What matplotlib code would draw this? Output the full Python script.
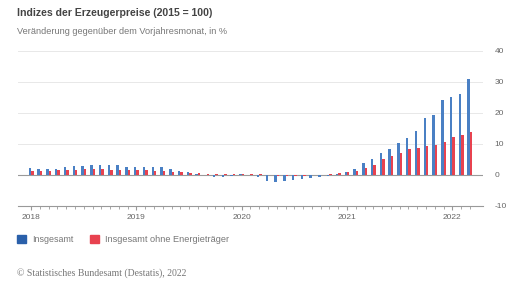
import matplotlib
matplotlib.use("Agg")
import matplotlib.pyplot as plt
import numpy as np
from matplotlib.patches import Rectangle

plt.rcParams["font.family"] = ["Liberation Sans", "DejaVu Sans"]

# monthly change vs. same month previous year, in %, Jan 2018 - Mar 2022
insgesamt = [
    2.1, 1.8, 1.9, 2.0, 2.7, 3.0, 3.0, 3.1, 3.2, 3.3, 3.3, 2.7,
    2.6, 2.6, 2.4, 2.5, 1.9, 1.2, 1.1, 0.3, -0.1, -0.6, -0.7, -0.2,
    0.2, -0.1, -0.8, -1.9, -2.2, -1.8, -1.7, -1.2, -1.0, -0.7, -0.5, 0.2,
    0.9, 1.9, 3.7, 5.2, 7.2, 8.5, 10.4, 12.0, 14.2, 18.4, 19.2, 24.2,
    25.0, 25.9, 30.9,
]
ohne_energie = [
    1.4, 1.4, 1.4, 1.5, 1.6, 1.7, 1.8, 1.8, 1.8, 1.7, 1.7, 1.6,
    1.6, 1.5, 1.4, 1.3, 1.1, 0.9, 0.7, 0.5, 0.4, 0.3, 0.2, 0.2,
    0.3, 0.3, 0.3, 0.0, -0.2, -0.3, -0.3, -0.2, -0.1, 0.1, 0.3, 0.6,
    1.1, 1.4, 2.2, 3.3, 5.1, 6.0, 7.0, 8.2, 8.7, 9.2, 9.8, 10.5,
    12.2, 12.7, 13.8,
]
years = ["2018", "2019", "2020", "2021", "2022"]
yticks = [-10, 0, 10, 20, 30, 40]

blue = "#4a80c4"
red = "#e8424f"
W, H = 510, 282

fig = plt.figure(figsize=(W / 100, H / 100), dpi=100)
ax = fig.add_axes([18 / W, 1 - 206 / H, (483 - 18) / W, (206 - 50.7) / H])

x = np.arange(len(insgesamt))
bw = 0.28
ax.bar(x - bw / 2, insgesamt, width=bw, color=blue, zorder=3)
ax.bar(x + bw / 2, ohne_energie, width=bw, color=red, zorder=3)

ax.set_xlim(-1.5, len(x) + 0.5)
ax.set_ylim(-10, 40)

for s in ["top", "left", "right"]:
    ax.spines[s].set_visible(False)
ax.spines["bottom"].set_color("#999999")
ax.spines["bottom"].set_linewidth(0.8)

ax.yaxis.tick_right()
ax.set_yticks(yticks)
ax.set_yticklabels([str(v) for v in yticks])
ax.tick_params(axis="y", length=0, pad=8.5, labelsize=6, labelcolor="#666666")
ax.grid(axis="y", color="#e8e8e8", linewidth=0.7, zorder=0)
ax.axhline(0, color="#9a9a9a", linewidth=0.8, zorder=2)

ax.set_xticks(np.arange(0, len(x), 12))
ax.set_xticklabels(years)
ax.set_xticks(np.arange(0, len(x)), minor=True)
ax.tick_params(axis="x", which="major", length=3, color="#999999",
               labelsize=6, labelcolor="#666666", pad=3)
ax.tick_params(axis="x", which="minor", length=2, color="#999999")

fig.text(17 / W, 1 - 13 / H, "Indizes der Erzeugerpreise (2015 = 100)",
         fontsize=7.6, fontweight="bold", color="#444444", va="center")
fig.text(17 / W, 1 - 31 / H, "Veränderung gegenüber dem Vorjahresmonat, in %",
         fontsize=6.6, color="#777777", va="center")

# legend
fig.patches.append(Rectangle((17 / W, 1 - 243 / H), 9 / W, 8 / H,
                             transform=fig.transFigure, color="#2a60aa"))
fig.text(32 / W, 1 - 239 / H, "Insgesamt", fontsize=6.4, color="#777777", va="center")
fig.patches.append(Rectangle((90 / W, 1 - 243 / H), 9 / W, 8 / H,
                             transform=fig.transFigure, color=red))
fig.text(105 / W, 1 - 239 / H, "Insgesamt ohne Energieträger", fontsize=6.6,
         color="#777777", va="center")

fig.text(17 / W, 1 - 273 / H, "© Statistisches Bundesamt (Destatis), 2022",
         fontsize=7, color="#777777", va="center", family="Liberation Serif")

fig.savefig("out.png", dpi=100)
